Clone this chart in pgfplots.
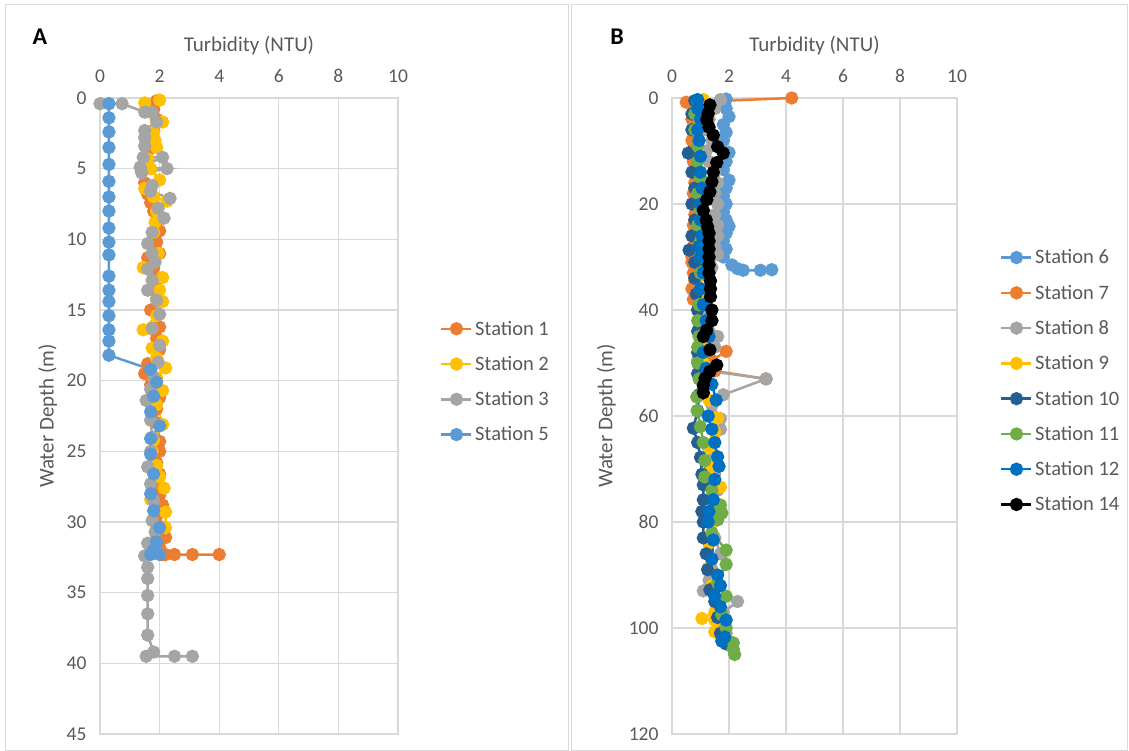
\documentclass[border=0pt]{standalone}
\usepackage{pgfplots}
\pgfplotsset{compat=1.18}
\usepackage{fontspec}
\setmainfont{Carlito}
\definecolor{sA}{HTML}{5B9BD5}
\definecolor{sO}{HTML}{ED7D31}
\definecolor{sG}{HTML}{A5A5A5}
\definecolor{sY}{HTML}{FFC000}
\definecolor{sD}{HTML}{255E91}
\definecolor{sL}{HTML}{70AD47}
\definecolor{sB}{HTML}{0070C0}
\definecolor{txt}{HTML}{595959}
\definecolor{grd}{HTML}{D9D9D9}
\pgfplotsset{
  turb/.style={
    scale only axis, clip=false, y dir=reverse,
    xmin=0, xmax=10, xtick={0,2,...,10},
    xticklabel pos=upper,
    grid=major, major grid style={grd, line width=1.3pt},
    axis line style={grd, line width=1.3pt},
    major tick length=0pt,
    /pgf/number format/assume math mode=true,
    tick label style={font=\fontsize{19.5}{19.5}\selectfont, text=txt},
    xticklabel shift=12pt, yticklabel shift=10pt,
    label style={font=\fontsize{21}{21}\selectfont, text=txt},
    xlabel={Turbidity (NTU)},
    xlabel style={at={(axis description cs:0.5,1)}, anchor=center, yshift=52pt},
    ylabel={Water Depth (m)},
    ylabel style={anchor=center, rotate=0},
    legend style={draw=none, fill=none, inner sep=0pt, font=\fontsize{20.5}{20.5}\selectfont, text=txt, row sep=14.6pt, legend cell align=left,
      nodes={inner sep=2.5pt}},
    legend image code/.code={\draw[mark repeat=2,mark phase=2,##1] plot coordinates {(0pt,0pt) (15pt,0pt) (30pt,0pt)};},
    every axis plot/.append style={line width=2.5pt, mark=*, mark size=5.4pt},
  }
}
\begin{document}
\begin{tikzpicture}[x=1pt,y=1pt]
\path[use as bounding box] (0,0) rectangle (1129,-751);
\draw[grd, line width=1pt] (5,-5) rectangle (568,-750);
\draw[grd, line width=1pt] (571,-5) rectangle (1127,-750);
\node[font=\fontsize{24}{24}\selectfont\bfseries] at (40,-37) {A};
\node[font=\fontsize{24}{24}\selectfont\bfseries] at (617,-37) {B};

% ---------------- Panel A
\begin{axis}[turb, at={(100pt,-734pt)}, anchor=south west, width=298pt, height=636pt,
  ymin=0, ymax=45, ytick={0,5,...,45},
  ylabel style={at={(axis description cs:-0.176,0.5)}},
  legend style={at={(axis description cs:1.141,0.554)}, anchor=west}]
\addplot[color=sO] coordinates {(1.9,0.2)(1.8,0.8)(1.9,1.5)(1.8,2.3)(1.7,3.0)(1.6,3.8)(1.5,4.5)(1.4,5.2)(1.5,6.0)(1.6,6.8)(1.7,7.4)(1.8,8.0)(1.9,8.8)(2.0,9.4)(1.9,10.2)(2.0,11.0)(1.6,11.3)(1.8,12.0)(1.9,12.8)(1.8,13.5)(1.9,14.2)(1.7,15.0)(2.0,16.2)(1.9,17.0)(2.0,17.8)(1.6,18.8)(1.5,19.5)(1.7,20.3)(2.0,21.2)(1.9,22.0)(1.9,23.0)(2.0,24.3)(2.0,25.0)(1.9,25.8)(2.0,26.6)(1.9,27.4)(2.0,28.1)(2.1,28.8)(1.9,29.6)(2.0,30.3)(2.2,31.1)(2.0,31.8)(2.1,32.3)(2.2,32.3)(2.5,32.3)(3.1,32.3)(4.0,32.3)};
\addlegendentry{Station 1}
\addplot[color=sY] coordinates {(2.0,0.15)(1.5,0.35)(1.7,1.0)(2.1,1.7)(1.8,2.4)(1.85,3.0)(1.9,3.5)(1.6,4.3)(1.7,5.0)(2.0,5.8)(1.5,6.4)(1.8,7.0)(2.25,7.3)(1.9,8.0)(1.85,8.8)(1.8,9.5)(1.95,11.0)(1.45,12.0)(2.1,12.7)(2.0,13.6)(2.1,14.4)(1.9,15.4)(1.45,16.4)(2.1,17.2)(1.75,17.7)(1.9,18.4)(2.2,19.1)(1.9,19.8)(2.1,20.7)(1.9,21.7)(2.1,23.1)(1.8,24.2)(1.75,25.0)(1.9,26.0)(2.0,26.8)(2.15,27.6)(1.7,28.4)(2.2,29.3)(2.2,30.4)};
\addlegendentry{Station 2}
\addplot[color=sG] coordinates {(0,0.4)(0.74,0.4)(1.5,1.0)(1.75,1.0)(1.9,1.7)(1.5,2.3)(1.5,2.8)(1.5,3.4)(1.45,4.2)(2.1,4.2)(1.35,4.9)(2.25,5.0)(1.4,5.3)(1.75,6.2)(1.7,6.6)(2.35,7.1)(1.95,7.8)(2.15,8.5)(1.75,9.5)(1.6,10.3)(1.75,11.0)(1.85,11.6)(1.6,12.1)(1.75,12.9)(1.6,13.6)(1.9,14.3)(2.0,15.3)(1.75,16.3)(2.0,17.5)(1.95,18.7)(1.8,19.8)(1.7,20.6)(1.55,21.4)(1.7,22.8)(1.75,24.0)(1.7,25.0)(1.6,26.1)(1.7,27.3)(1.8,28.5)(1.75,29.9)(1.85,30.7)(1.6,31.5)(1.5,32.4)(1.6,33.2)(1.6,34.0)(1.6,35.2)(1.6,36.5)(1.6,38.0)(1.8,39.2)(1.55,39.5)(2.5,39.5)(3.1,39.5)};
\addlegendentry{Station 3}
\addplot[color=sA] coordinates {(0.3,0.4)(0.3,1.4)(0.3,2.4)(0.3,3.5)(0.3,4.7)(0.3,5.9)(0.3,7.0)(0.3,8.0)(0.3,9.2)(0.3,10.2)(0.3,11.1)(0.3,12.6)(0.3,13.6)(0.3,14.4)(0.3,15.4)(0.3,16.4)(0.3,17.2)(0.3,18.2)(1.7,19.2)(1.9,20.1)(1.8,21.1)(1.7,22.2)(2.0,23.2)(1.7,24.1)(1.7,25.2)(1.8,26.6)(1.7,28.0)(1.8,29.2)(2.0,30.4)(1.9,31.4)(1.8,32.0)(1.7,32.3)(2.0,32.3)};
\addlegendentry{Station 5}
\end{axis}

% ---------------- Panel B
\begin{axis}[turb, at={(672pt,-734pt)}, anchor=south west, width=285pt, height=636pt,
  ymin=0, ymax=120, ytick={0,20,...,120},
  ylabel style={at={(axis description cs:-0.23,0.5)}},
  legend style={at={(axis description cs:1.151,0.555)}, anchor=west}]
\addplot[color=sA] coordinates {(1.9,0.2)(1.8,1)(1.9,2)(2.0,3.5)(1.8,5)(1.9,6.5)(1.8,8)(2.0,10.3)(1.9,12)(1.8,13.5)(2.0,15.5)(1.9,17)(1.8,18.5)(1.9,20)(1.8,21.5)(1.9,23)(2.0,24.2)(1.9,25.5)(1.8,27)(1.9,28.5)(1.8,30)(2.1,31.5)(2.3,32.2)(2.5,32.5)(3.1,32.5)(3.5,32.4)};
\addlegendentry{Station 6}
\addplot[color=sO] coordinates {(4.2,0)(0.5,0.8)(0.8,2)(0.7,4)(0.8,6)(0.7,8)(0.8,10)(0.75,12)(0.8,14)(0.8,16)(0.75,18)(0.8,20)(0.8,22)(0.75,24)(0.8,26)(0.75,28)(0.7,30)(0.7,31)(0.75,33)(0.8,34.5)(0.7,36)(0.75,38)(0.9,40)(1.0,42)(1.1,44)(1.3,46)(1.9,47.8)(1.4,49.5)(1.5,51.5)(3.3,53)};
\addlegendentry{Station 7}
\addplot[color=sG] coordinates {(1.7,0.3)(1.5,2)(1.3,4)(1.2,6)(1.4,8)(1.2,10)(1.3,12)(1.5,14)(1.6,16)(1.5,18)(1.6,20)(1.5,22)(1.6,24)(1.6,26)(1.5,28)(1.6,29.5)(1.4,32)(1.3,34)(1.2,36)(1.2,38)(1.2,40)(1.3,42)(1.6,45)(1.5,47)(0.9,49.5)(1.3,51.5)(3.3,53)(1.8,56)(1.4,58)(1.7,60.5)(1.7,62.5)(1.5,65)(1.4,68)(1.5,71)(1.6,74)(1.5,77)(1.4,80)(1.5,83)(1.7,86)(1.4,89)(1.3,91)(1.1,93)(2.3,95)(1.8,97)(1.8,99)(1.9,101)};
\addlegendentry{Station 8}
\addplot[color=sY] coordinates {(1.1,0.3)(1.0,3)(0.9,6)(0.9,10)(1.0,14)(1.1,18)(1.0,22)(1.0,25)(1.1,27)(1.0,30)(0.9,34)(1.0,38)(1.0,42)(1.0,46)(1.1,50)(1.2,54)(1.3,57)(1.6,60.4)(1.5,63)(1.3,66)(1.4,69.6)(1.7,73.4)(1.5,77)(1.4,80)(1.3,84)(1.27,88.7)(1.4,92)(1.6,95)(1.5,97)(1.05,98.2)(1.5,98.5)(1.5,100.7)(1.7,101.6)};
\addlegendentry{Station 9}
\addplot[color=sD] coordinates {(0.8,0.5)(0.7,3)(0.7,6)(0.57,10.4)(0.7,14)(0.8,17)(0.7,20)(0.8,23)(0.7,26)(0.6,28.7)(0.8,31)(0.8,34)(0.85,37)(0.9,40)(0.9,44)(0.9,48)(0.9,52)(0.95,56)(0.9,59)(0.75,62.3)(0.9,65)(1.0,67.8)(1.05,71)(1.1,73)(1.1,75.8)(1.05,78)(1.1,80)(1.1,83)(1.2,86)(1.25,89)(1.33,92.8)(1.5,95)(1.6,98)(1.7,101)(1.9,103)};
\addlegendentry{Station 10}
\addplot[color=sL] coordinates {(0.9,0.5)(0.8,3)(0.8,6)(0.9,9)(0.9,12)(1.0,15)(0.9,18)(1.0,21)(0.9,24)(1.0,27)(1.0,30)(1.0,33)(1.0,36)(0.95,39)(0.9,42)(0.95,45)(0.9,47)(0.9,50)(0.95,53)(0.87,56.4)(0.88,59)(1.0,62)(1.1,65)(1.15,68.4)(1.15,71.5)(1.4,74)(1.7,76.8)(1.75,78.3)(1.6,79.6)(1.4,82)(1.9,85.3)(1.9,88)(1.6,91.5)(1.9,94)(1.75,97.5)(1.9,100)(2.15,102.8)(2.15,104)(2.2,105)};
\addlegendentry{Station 11}
\addplot[color=sB] coordinates {(0.9,0.3)(0.9,2)(1.0,4)(0.9,6)(0.95,8)(1.0,11)(1.0,14)(1.05,17)(1.0,20)(1.0,23)(1.05,26)(0.95,28)(1.0,30)(1.1,33)(1.0,36)(1.1,39)(1.2,42)(1.3,45)(1.1,48)(1.2,51)(1.4,54)(1.55,57)(1.27,60)(1.4,62.5)(1.5,65)(1.6,67.7)(1.65,69.5)(1.5,72)(1.45,75.8)(1.3,78)(1.27,80)(1.45,83.4)(1.4,87)(1.6,90)(1.7,92)(1.5,94)(1.7,96)(1.9,98.5)(1.85,101.7)(1.75,102.5)};
\addlegendentry{Station 12}
\addplot[color=black] coordinates {(1.33,1.3)(1.27,2.9)(1.22,4.1)(1.3,5.5)(1.45,7)(1.6,9.2)(1.8,10.4)(1.57,12.2)(1.45,14)(1.4,15.8)(1.33,17.7)(1.22,19.2)(1.1,21.2)(1.2,23)(1.25,24.3)(1.3,25.5)(1.3,27)(1.3,28.5)(1.3,30)(1.3,31.5)(1.3,33)(1.35,34.5)(1.35,36)(1.35,37.5)(1.4,40)(1.4,42)(1.22,43.8)(1.1,45)(1.33,47.5)(1.57,50.4)(1.33,51.6)(1.16,52.9)(1.1,54.2)(1.1,55.6)};
\addlegendentry{Station 14}
\end{axis}
\end{tikzpicture}
\end{document}
